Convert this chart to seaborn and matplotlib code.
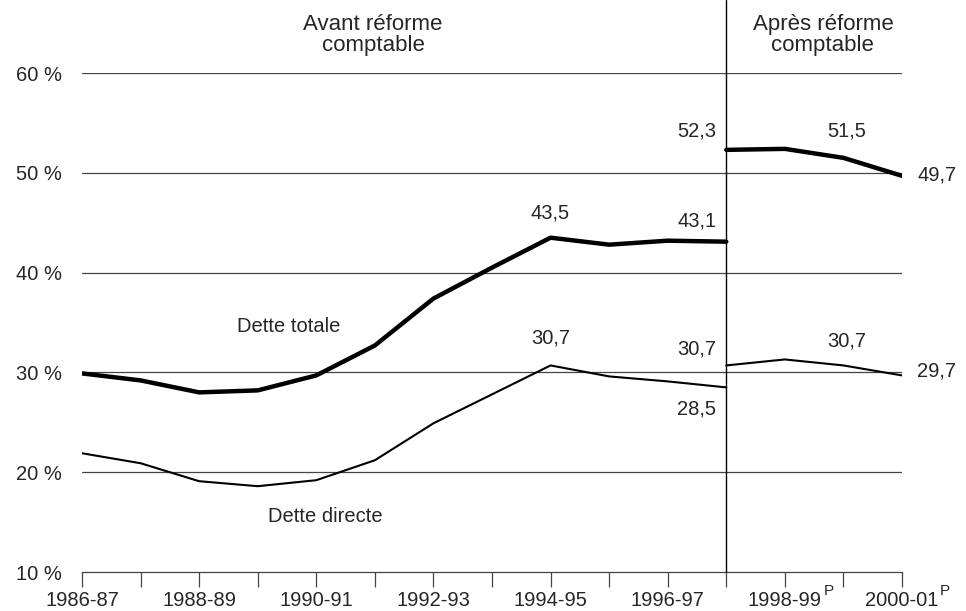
import numpy as np
import pandas as pd
import seaborn as sns
import matplotlib.pyplot as plt
import matplotlib.transforms as mtransforms

sns.set_theme(style="white")
plt.rcParams['font.family'] = ['Liberation Sans', 'DejaVu Sans']

years = ['1986-87', '1987-88', '1988-89', '1989-90', '1990-91', '1991-92', '1992-93',
         '1993-94', '1994-95', '1995-96', '1996-97', '1997-98', '1998-99', '1999-00', '2000-01']
tick_labels = ['1986-87', '', '1988-89', '', '1990-91', '', '1992-93', '',
               '1994-95', '', '1996-97', '', '1998-99', '', '2000-01']

# avant reforme: 1986-87 a 1997-98
totale_avant = [29.9, 29.2, 28.0, 28.2, 29.7, 32.7, 37.4, 40.5, 43.5, 42.8, 43.2, 43.1]
directe_avant = [21.9, 20.9, 19.1, 18.6, 19.2, 21.2, 24.9, 27.8, 30.7, 29.6, 29.1, 28.5]
# apres reforme: 1997-98 a 2000-01
totale_apres = [52.3, 52.4, 51.5, 49.7]
directe_apres = [30.7, 31.3, 30.7, 29.7]

x_avant = list(range(12))
x_apres = list(range(11, 15))

fig = plt.figure(figsize=(9.66, 6.11), dpi=100)
ax = fig.add_axes([0.0849, 0.0638, 0.8488, 0.8167])

for y in [20, 30, 40, 50, 60]:
    ax.axhline(y, color='#444444', lw=0.9, zorder=1)

thick = dict(color='black', lw=3.2, zorder=3, solid_capstyle='round')
thin = dict(color='black', lw=1.5, zorder=3, solid_capstyle='round')
sns.lineplot(x=x_avant, y=totale_avant, ax=ax, **thick)
sns.lineplot(x=x_apres, y=totale_apres, ax=ax, **thick)
sns.lineplot(x=x_avant, y=directe_avant, ax=ax, **thin)
sns.lineplot(x=x_apres, y=directe_apres, ax=ax, **thin)

ax.axvline(11, ymin=0, ymax=572 / 499, color='black', lw=1.0, clip_on=False, zorder=4)

fs = 14.5
ax.set_xlim(0, 14)
ax.set_ylim(10, 60)
ax.set_xticks(range(15))
ax.set_xticklabels(tick_labels, fontsize=fs)
ax.set_yticks([10, 20, 30, 40, 50, 60])
ax.set_yticklabels([f'{v} %' for v in [10, 20, 30, 40, 50, 60]], fontsize=fs)
ax.tick_params(axis='x', direction='out', length=11, width=0.9, color='#444444', pad=3, bottom=True)
ax.tick_params(axis='y', length=0, pad=14.4)

for s in ['top', 'right', 'left']:
    ax.spines[s].set_visible(False)
ax.spines['bottom'].set_color('#444444')
ax.spines['bottom'].set_linewidth(0.9)

# exposant P (previsions)
trans = mtransforms.blended_transform_factory(ax.transData, ax.transAxes)
for xp in [12.67, 14.65]:
    ax.text(xp, -0.039, 'P', transform=trans, ha='left', va='center', fontsize=11, clip_on=False)

labels = [
    (8.0, 46.0, '43,5', 'center'),
    (10.5, 45.2, '43,1', 'center'),
    (10.5, 54.2, '52,3', 'center'),
    (13.05, 54.2, '51,5', 'center'),
    (14.26, 49.8, '49,7', 'left'),
    (8.0, 33.4, '30,7', 'center'),
    (10.5, 32.3, '30,7', 'center'),
    (10.5, 26.3, '28,5', 'center'),
    (13.05, 33.1, '30,7', 'center'),
    (14.26, 30.1, '29,7', 'left'),
]
for xv, yv, txt, ha in labels:
    ax.text(xv, yv, txt, ha=ha, va='center', fontsize=fs, clip_on=False)

ax.text(3.53, 34.6, 'Dette totale', ha='center', va='center', fontsize=fs)
ax.text(4.15, 15.6, 'Dette directe', ha='center', va='center', fontsize=fs)

ax.text(4.97, 63.8, 'Avant réforme\ncomptable', ha='center', va='center', fontsize=16,
        clip_on=False, linespacing=1.05)
ax.text(12.65, 63.8, 'Après réforme\ncomptable', ha='center', va='center', fontsize=16,
        clip_on=False, linespacing=1.05)

fig.savefig('out.png', dpi=100)
